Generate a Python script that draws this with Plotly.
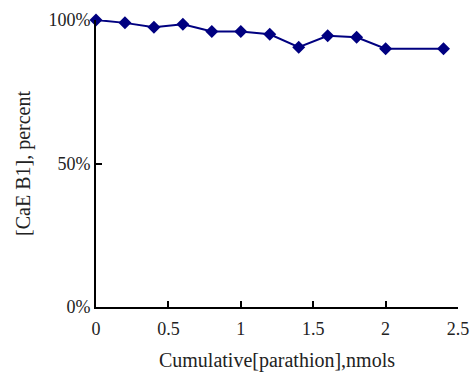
import plotly.graph_objects as go

x_vals = [0, 0.2, 0.4, 0.6, 0.8, 1.0, 1.2, 1.4, 1.6, 1.8, 2.0, 2.4]
y_vals = [100, 99, 97.5, 98.5, 96, 96, 95, 90.5, 94.5, 94, 90, 90]
x_ticks = [0, 0.5, 1, 1.5, 2, 2.5]
x_tick_text = ["0", "0.5", "1", "1.5", "2", "2.5"]
y_ticks = [0, 50, 100]
y_tick_text = ["0%", "50%", "100%"]

FAM = "'Times New Roman', 'Liberation Serif', 'DejaVu Serif', serif"
TXT = "#222222"

fig = go.Figure()
fig.add_trace(go.Scatter(
    x=x_vals, y=y_vals, mode="lines+markers",
    line=dict(color="#000080", width=2),
    marker=dict(symbol="diamond", size=10, color="#000080"),
    cliponaxis=False, showlegend=False,
))

fig.update_layout(
    width=471, height=372,
    margin=dict(l=96, r=13, t=20, b=65, autoexpand=False),
    paper_bgcolor="white", plot_bgcolor="white",
    font=dict(size=18, family=FAM, color=TXT),
)
fig.update_xaxes(
    range=[0, 2.5], tickvals=x_ticks, ticktext=x_tick_text,
    showgrid=False, zeroline=False, showline=True, linecolor="black", linewidth=2,
    ticks="inside", ticklen=6, tickwidth=1.5, tickcolor="black",
    tickfont=dict(size=18, family=FAM, color=TXT), automargin=False,
    ticklabelstandoff=4, ticklabeloverflow="allow",
    title=dict(text="Cumulative[parathion],nmols", font=dict(size=20, family=FAM, color=TXT), standoff=19),
)
fig.update_yaxes(
    range=[0, 100], tickvals=y_ticks, ticktext=y_tick_text,
    showgrid=False, zeroline=False, showline=True, linecolor="black", linewidth=2,
    ticks="inside", ticklen=6, tickwidth=1.5, tickcolor="black",
    tickfont=dict(size=18, family=FAM, color=TXT), automargin=False,
    title=dict(text="[CaE B1], percent", font=dict(size=20, family=FAM, color=TXT), standoff=12),
)

fig.write_html(
    "out.html",
    config={"displayModeBar": False},
    post_script="document.body.style.margin='0';document.body.style.overflow='hidden';",
)
